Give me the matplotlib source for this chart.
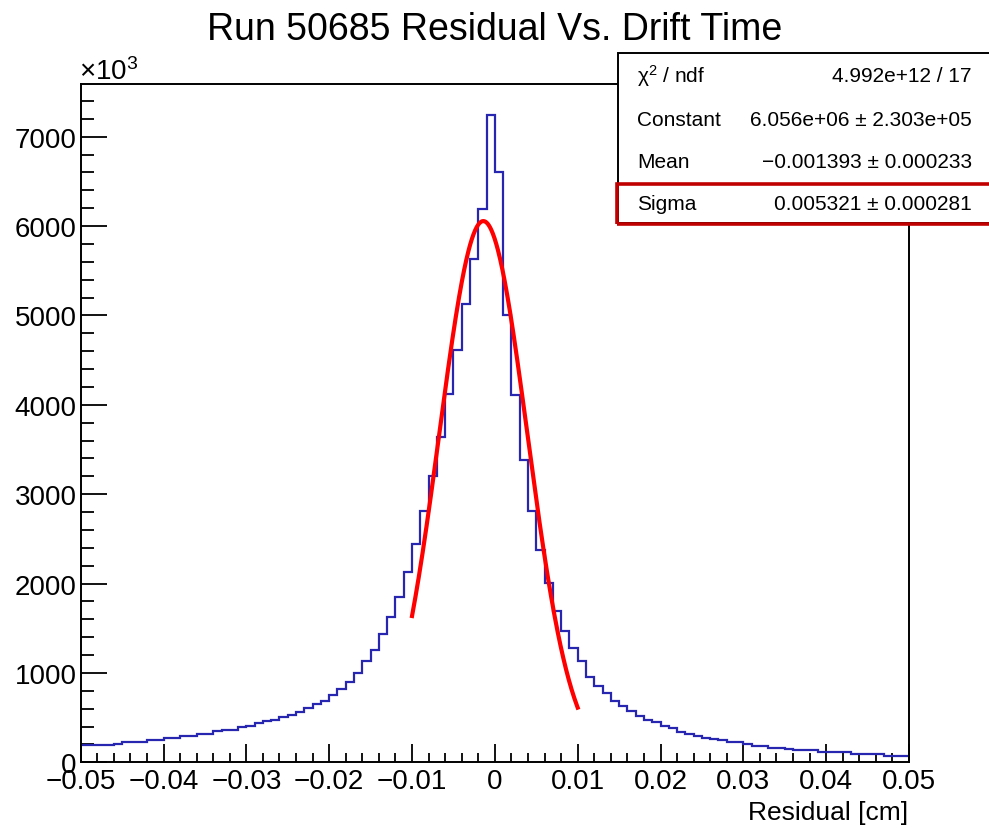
#!/usr/bin/env python3
"""Residual histogram with gaussian fit, ROOT-style."""

import matplotlib

matplotlib.use("Agg")
import matplotlib.pyplot as plt  # noqa: E402
import numpy as np  # noqa: E402
from matplotlib.patches import Rectangle  # noqa: E402
from matplotlib.ticker import MultipleLocator  # noqa: E402

plt.rcParams["font.family"] = ["Liberation Sans", "DejaVu Sans"]
plt.rcParams["mathtext.fontset"] = "custom"
plt.rcParams["mathtext.rm"] = "Liberation Sans"
plt.rcParams["mathtext.it"] = "Liberation Sans:italic"

# ---------------------------------------------------------------------------
# Data (counts in units of 10^3, 100 bins over [-0.05, 0.05] cm)
# ---------------------------------------------------------------------------

x_min, x_max, n_bins = -0.05, 0.05, 100

counts = [
    190, 192, 197, 197, 200,
    224, 224, 226,
    249, 249,
    272, 272,
    298, 298,
    320, 322,
    347,
    365, 367,
    391, 410, 436, 459, 477, 503, 529, 566, 604, 649, 689, 756, 820, 902,
    995, 1130, 1256, 1435, 1629, 1853, 2132, 2442, 2815, 3206,
    3642, 4120, 4615, 5126, 5630, 6189, 7244, 6606, 5004, 4109,
    3385, 2815, 2375, 2002, 1696, 1472, 1279, 1130, 958, 857,
    778, 686, 630, 577, 515, 473, 447, 403, 380, 343,
    317, 291, 268, 266, 246, 224, 222, 201, 179, 177,
    157, 155, 153, 138, 136, 134, 119, 118, 117, 116,
    96, 95, 94, 93, 74, 73, 72,
]

# gaussian fit parameters (constant in units of 10^3)
fit_range = (-0.01, 0.01)
fit_constant = 6056.0
fit_mean = -0.001393
fit_sigma = 0.005321

stats_rows = [
    ("\u03c7$^{2}$ / ndf", "4.992e+12 / 17"),
    ("Constant", "6.056e+06 \u00b1 2.303e+05"),
    ("Mean", "\u22120.001393 \u00b1 0.000233"),
    ("Sigma", "0.005321 \u00b1 0.000281"),
]

W, H = 989, 829


def fx(px: float) -> float:
    return px / W


def fy(py: float) -> float:
    return 1 - py / H


fig = plt.figure(figsize=(W / 100, H / 100), dpi=100)
ax = fig.add_axes([fx(80.7), fy(763.3), fx(909 - 80.7), (763.3 - 85) / H])

edges = np.linspace(x_min, x_max, n_bins + 1)
ax.stairs(counts, edges, baseline=None, color="#2626b0", linewidth=1.6, zorder=2)

xf = np.linspace(fit_range[0], fit_range[1], 300)
yf = fit_constant * np.exp(-0.5 * ((xf - fit_mean) / fit_sigma) ** 2)
ax.plot(xf, yf, color="#ff0000", linewidth=3.0, zorder=3)

ax.set_xlim(x_min, x_max)
ax.set_ylim(0, 7590)

ax.xaxis.set_minor_locator(MultipleLocator(0.002))
ax.yaxis.set_major_locator(MultipleLocator(1000))
ax.yaxis.set_minor_locator(MultipleLocator(200))
xt = np.arange(-0.05, 0.0501, 0.01)
ax.set_xticks(xt)
ax.set_xticklabels(["\u22120.05", "\u22120.04", "\u22120.03", "\u22120.02", "\u22120.01",
                    "0", "0.01", "0.02", "0.03", "0.04", "0.05"])

ax.tick_params(axis="x", which="major", direction="in", length=13, width=1.3,
               labelsize=20, pad=4)
ax.tick_params(axis="x", which="minor", direction="in", length=6.5, width=1.3)
ax.tick_params(axis="y", which="major", direction="in", length=18.5, width=1.3,
               labelsize=20, pad=3)
ax.tick_params(axis="y", which="minor", direction="in", length=9.5, width=1.3)
for sp in ax.spines.values():
    sp.set_linewidth(1.4)

fig.text(0.5, fy(40), "Run 50685 Residual Vs. Drift Time", ha="center",
         va="baseline", fontsize=27)
fig.text(fx(79), fy(80), "\u00d710$^{3}$", ha="left", va="baseline", fontsize=20)
fig.text(fx(908), fy(820), "Residual [cm]", ha="right", va="baseline", fontsize=19)

# stats box
box = Rectangle((fx(618), fy(224)), fx(400), (224 - 54) / H, transform=fig.transFigure,
                facecolor="white", edgecolor="black", linewidth=1.4, zorder=5)
fig.add_artist(box)
hl = Rectangle((fx(617), fy(225)), fx(400), (225 - 185) / H, transform=fig.transFigure,
               facecolor="none", edgecolor="#c00000", linewidth=2.6, zorder=6)
fig.add_artist(hl)

row_y = [76, 120, 163, 205]
for (name, val), py in zip(stats_rows, row_y):
    fig.text(fx(637), fy(py), name, ha="left", va="center", fontsize=15, zorder=7)
    fig.text(fx(972), fy(py), val, ha="right", va="center", fontsize=15, zorder=7)

fig.savefig("out.png", dpi=100)
